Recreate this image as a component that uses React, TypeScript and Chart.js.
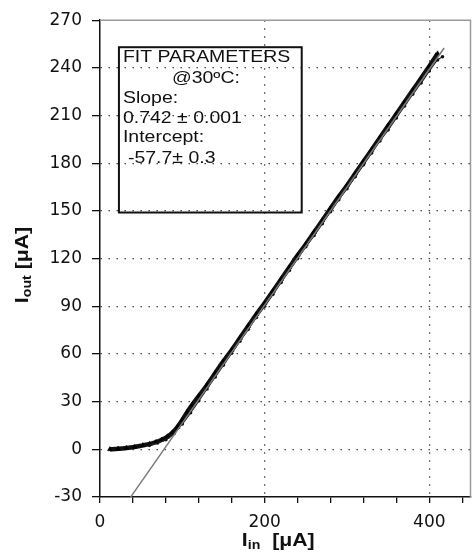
import React, { useEffect, useRef } from "react";
import { Chart, registerables } from "chart.js";

Chart.register(...registerables);

// ---- data ----
const upperX = [12, 22, 32, 42, 52, 60, 68, 75, 82, 88, 94, 100, 106, 112, 120, 130, 140, 150, 160, 170, 180, 190, 200, 210, 220, 230, 240, 250, 260, 270, 280, 290, 300, 310, 320, 330, 340, 350, 360, 370, 380, 390, 400, 410];
const upperY = [0, 0.3, 0.8, 1.5, 2.5, 3.3, 4.5, 6, 8, 10.5, 14, 18.5, 23.5, 28, 33.5, 40.5, 48, 55.5, 62.5, 70, 77.5, 85, 92, 99.5, 107, 114.5, 122, 129, 136.5, 144, 151.5, 159, 166, 173.5, 181, 188.5, 196, 203.5, 211, 218.5, 226, 233.5, 241, 249];

const lowerX = [60, 70, 80, 90, 100, 110, 120, 130, 140, 150, 160, 170, 180, 190, 200, 210, 220, 230, 240, 250, 260, 270, 280, 290, 300, 310, 320, 330, 340, 350, 360, 370, 380, 390, 400, 410, 416];
const lowerY = [2.5, 4, 6, 10, 16, 23, 30.5, 38, 45.5, 53, 60.5, 68, 75.5, 83, 90, 97.5, 105, 112.5, 120, 127.5, 134.5, 142, 149.5, 157, 164, 171.5, 179, 186.5, 194, 201, 208.5, 216, 223.5, 230.5, 238, 245, 247];

const fitX = [37, 418];
const fitY = [-30.2, 252.5];

const xTicks = [0, 40, 80, 120, 160, 200, 240, 280, 320, 360, 400, 440];
const xLabeled = [0, 200, 400];
const xGridValues = [200, 400];
const yTicks = [-30, 0, 30, 60, 90, 120, 150, 180, 210, 240, 270];

const fitLines = ["FIT PARAMETERS", "@30ºC:", "Slope:", "0.742 ± 0.001", "Intercept:", "-57.7± 0.3"];
const boxXRange = [23, 245];
const boxYRange = [149, 253];

const STRETCH = 1.18;
const TEXT_FONT = "'Liberation Sans', Arial, sans-serif";

type Part = { t: string; size: number; dy: number };

function drawParts(ctx: CanvasRenderingContext2D, parts: Part[], cx: number, baseY: number) {
  let total = 0;
  const widths = parts.map((p) => {
    ctx.font = `bold ${p.size}px ${TEXT_FONT}`;
    const w = ctx.measureText(p.t).width * STRETCH;
    total += w;
    return w;
  });
  let x = cx - total / 2;
  parts.forEach((p, i) => {
    ctx.save();
    ctx.font = `bold ${p.size}px ${TEXT_FONT}`;
    ctx.translate(x, baseY + p.dy);
    ctx.scale(STRETCH, 1);
    ctx.fillText(p.t, 0, 0);
    ctx.restore();
    x += widths[i];
  });
}

const decorPlugin = {
  id: "decor",
  afterDraw(chart: any) {
    const ctx: CanvasRenderingContext2D = chart.ctx;
    const { left, right, top, bottom } = chart.chartArea;
    const xs = chart.scales.x;
    const ys = chart.scales.y;

    // top & right frame
    ctx.save();
    ctx.strokeStyle = "#9a9a9a";
    ctx.lineWidth = 1.5;
    ctx.setLineDash([]);
    ctx.beginPath();
    ctx.moveTo(left, top);
    ctx.lineTo(right, top);
    ctx.lineTo(right, bottom);
    ctx.stroke();
    ctx.restore();

    // fit-parameter box
    const bx0 = xs.getPixelForValue(boxXRange[0]);
    const bx1 = xs.getPixelForValue(boxXRange[1]);
    const by0 = ys.getPixelForValue(boxYRange[1]);
    const by1 = ys.getPixelForValue(boxYRange[0]);
    ctx.save();
    ctx.setLineDash([]);
    ctx.strokeStyle = "#111";
    ctx.lineWidth = 2;
    ctx.strokeRect(bx0, by0, bx1 - bx0, by1 - by0);
    ctx.fillStyle = "#111";
    ctx.textBaseline = "alphabetic";
    ctx.font = `16.5px ${TEXT_FONT}`;
    const offX = [4, 53, 4, 4, 4, 9];
    const offY = [15, 35.7, 55.7, 76, 95, 116];
    fitLines.forEach((s, i) => {
      ctx.save();
      ctx.translate(bx0 + offX[i], by0 + offY[i]);
      ctx.scale(STRETCH, 1);
      ctx.fillText(s, 0, 0);
      ctx.restore();
    });
    ctx.restore();

    // axis titles
    ctx.save();
    ctx.fillStyle = "#111";
    ctx.textBaseline = "alphabetic";
    drawParts(
      ctx,
      [
        { t: "I", size: 18, dy: 0 },
        { t: "in", size: 12, dy: 3 },
        { t: "  [μA]", size: 18, dy: 0 },
      ],
      (left + right) / 2 - 7,
      546
    );
    ctx.restore();

    ctx.save();
    ctx.fillStyle = "#111";
    ctx.textBaseline = "alphabetic";
    ctx.translate(28, 265);
    ctx.rotate(-Math.PI / 2);
    drawParts(
      ctx,
      [
        { t: "I", size: 18, dy: 0 },
        { t: "out", size: 12, dy: 3 },
        { t: " [μA]", size: 18, dy: 0 },
      ],
      0,
      0
    );
    ctx.restore();
  },
};

export default function App() {
  const ref = useRef<HTMLCanvasElement | null>(null);

  useEffect(() => {
    if (!ref.current) return;
    const transparent = "rgba(0,0,0,0)";
    const chart = new Chart(ref.current, {
      type: "line",
      data: {
        datasets: [
          {
            label: "fit",
            data: fitX.map((x, i) => ({ x, y: fitY[i] })),
            borderColor: "#7a7a7a",
            borderWidth: 1.5,
            pointRadius: 0,
            tension: 0,
          },
          {
            label: "lower",
            data: lowerX.map((x, i) => ({ x, y: lowerY[i] })),
            borderColor: "#222",
            borderWidth: 1.3,
            pointRadius: 1.8,
            pointStyle: "circle",
            pointBackgroundColor: "#111",
            pointBorderColor: "#111",
            pointBorderWidth: 0,
            tension: 0.2,
          },
          {
            label: "upper",
            data: upperX.map((x, i) => ({ x, y: upperY[i] })),
            borderColor: "#111",
            borderWidth: 4.5,
            pointRadius: 2.8,
            pointStyle: "triangle",
            pointBackgroundColor: "#000",
            pointBorderColor: "#000",
            pointBorderWidth: 0.5,
            tension: 0.2,
          },
        ],
      },
      options: {
        responsive: false,
        animation: false,
        events: [],
        layout: { padding: { top: 15, right: 3, left: 0, bottom: 0 } },
        plugins: {
          legend: { display: false },
          tooltip: { enabled: false },
        },
        scales: {
          x: {
            type: "linear",
            min: 0,
            max: 450,
            afterBuildTicks: (s: any) => {
              s.ticks = xTicks.map((v) => ({ value: v }));
            },
            afterFit: (s: any) => {
              s.height = 59;
            },
            ticks: {
              autoSkip: false,
              maxRotation: 0,
              padding: 9,
              color: "#111",
              font: { family: "'DejaVu Sans', sans-serif", size: 17 },
              callback: (v: any) => (xLabeled.includes(Number(v)) ? String(v) : ""),
            },
            grid: {
              color: (c: any) => (c.tick && xGridValues.includes(c.tick.value) ? "#444" : transparent),
              lineWidth: 1.3,
              tickColor: "#111",
              tickLength: 6,
              tickWidth: 1.3,
              tickBorderDash: [],
            },
            border: { color: "#111", width: 1.5, dash: [1.5, 6.5] },
          },
          y: {
            type: "linear",
            min: -30,
            max: 270,
            afterBuildTicks: (s: any) => {
              s.ticks = yTicks.map((v) => ({ value: v }));
            },
            afterFit: (s: any) => {
              s.width = 100;
            },
            ticks: {
              autoSkip: false,
              padding: 10,
              color: "#111",
              font: { family: "'DejaVu Sans', sans-serif", size: 17 },
              callback: (v: any) => String(v),
            },
            grid: {
              color: (c: any) =>
                c.tick && (c.tick.value === -30 || c.tick.value === 270) ? transparent : "#444",
              lineWidth: 1.3,
              tickColor: "#111",
              tickLength: 8,
              tickWidth: 1.3,
              tickBorderDash: [],
            },
            border: { color: "#111", width: 1.5, dash: [1.5, 6.5] },
          },
        },
      },
      plugins: [decorPlugin],
    } as any);
    return () => chart.destroy();
  }, []);

  return (
    <div style={{ position: "fixed", left: 0, top: 0, width: 475, height: 556, background: "#fff" }}>
      <canvas ref={ref} width={475} height={556} style={{ display: "block", width: 475, height: 556 }} />
    </div>
  );
}
